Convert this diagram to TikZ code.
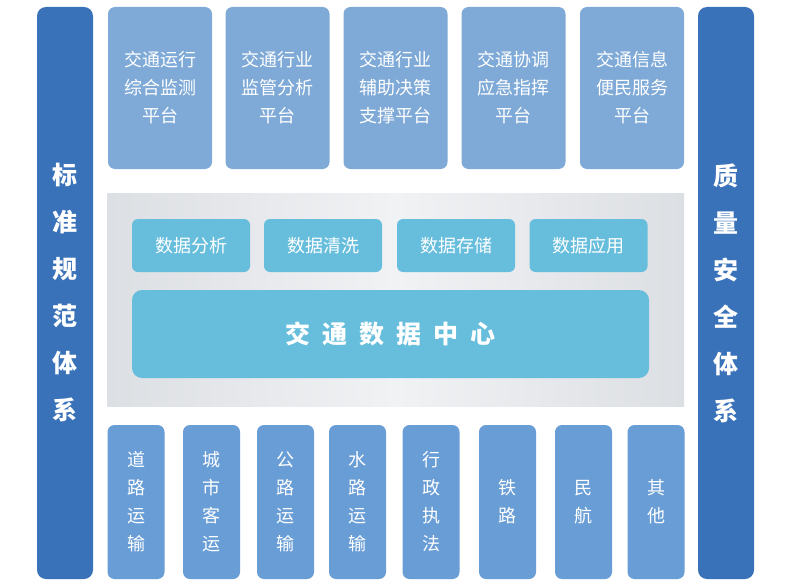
\documentclass[tikz,border=0pt]{standalone}
\usepackage{fontspec}
\setmainfont{Noto Sans CJK SC}
\definecolor{sideblue}{HTML}{3A72BA}
\definecolor{topblue}{HTML}{7FAAD7}
\definecolor{botblue}{HTML}{699DD6}
\definecolor{cyanbox}{HTML}{67BEDC}
\definecolor{panelgray}{HTML}{DCDFE3}
\definecolor{panellight}{HTML}{F1F2F4}
\tikzset{
  sidebar/.style={fill=sideblue, rounded corners=9pt, text=white,
    font=\fontsize{25}{47}\selectfont\bfseries, align=center,
    minimum width=56pt, minimum height=572pt, inner sep=0pt},
  topbox/.style={fill=topblue, rounded corners=7pt, text=white,
    font=\fontsize{18}{28}\selectfont, align=center,
    minimum width=104pt, minimum height=162pt, inner sep=0pt},
  smallbox/.style={fill=cyanbox, rounded corners=6pt, text=white,
    font=\fontsize{18}{24}\selectfont, align=center,
    minimum width=118pt, minimum height=53pt, inner sep=0pt},
  bigbox/.style={fill=cyanbox, rounded corners=10pt, text=white,
    font=\fontsize{25}{30}\selectfont\bfseries, align=center,
    minimum width=517pt, minimum height=88pt, inner sep=0pt},
  botbox/.style={fill=botblue, rounded corners=7pt, text=white,
    font=\fontsize{18}{28}\selectfont, align=center,
    minimum width=57pt, minimum height=154pt, inner sep=0pt},
  panel/.style={left color=panelgray, right color=panelgray, middle color=panellight,
    minimum width=577pt, minimum height=213pt, inner sep=0pt}
}
\begin{document}
\begin{tikzpicture}[x=1pt,y=-1pt]
\useasboundingbox[fill=white] (0,0) rectangle (800,586);
% side bars
\node[sidebar] (left) at (65,293) {标\\准\\规\\范\\体\\系};
\node[sidebar] (right) at (726,293) {质\\量\\安\\全\\体\\系};
% top platforms
\node[topbox] (t1) at (160,88) {交通运行\\综合监测\\平台};
\node[topbox] (t2) at (277.5,88) {交通行业\\监管分析\\平台};
\node[topbox] (t3) at (395.5,88) {交通行业\\辅助决策\\支撑平台};
\node[topbox] (t4) at (513.5,88) {交通协调\\应急指挥\\平台};
\node[topbox] (t5) at (632,88) {交通信息\\便民服务\\平台};
% panel
\node[panel] (pan) at (395.5,299.5) {};
\node[smallbox] (s1) at (191,245.5) {数据分析};
\node[smallbox] (s2) at (323,245.5) {数据清洗};
\node[smallbox] (s3) at (456,245.5) {数据存储};
\node[smallbox] (s4) at (588.5,245.5) {数据应用};
\node[bigbox] (center) at (390.5,334) {交\hspace{12pt}通\hspace{12pt}数\hspace{12pt}据\hspace{12pt}中\hspace{12pt}心};
% bottom boxes
\node[botbox] (b1) at (136,502) {道\\路\\运\\输};
\node[botbox] (b2) at (211.5,502) {城\\市\\客\\运};
\node[botbox] (b3) at (285.5,502) {公\\路\\运\\输};
\node[botbox] (b4) at (357.5,502) {水\\路\\运\\输};
\node[botbox] (b5) at (431,502) {行\\政\\执\\法};
\node[botbox] (b6) at (507.5,502) {铁\\路};
\node[botbox] (b7) at (583.5,502) {民\\航};
\node[botbox] (b8) at (656,502) {其\\他};
\end{tikzpicture}
\end{document}
